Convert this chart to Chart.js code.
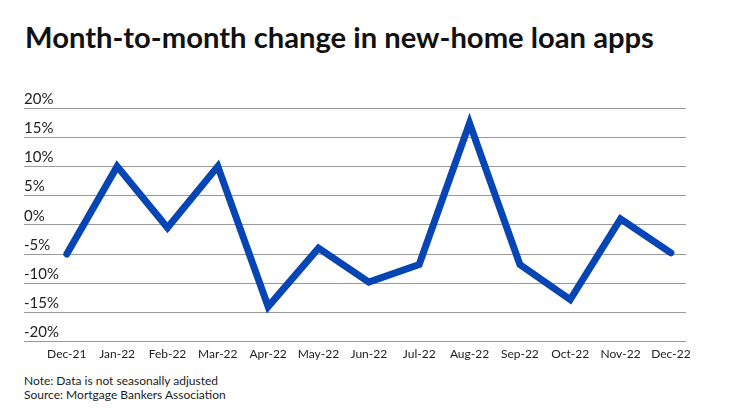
<!DOCTYPE html>
<html lang="en">
<head>
  <meta charset="UTF-8">
  <title>Month-to-month change in new-home loan apps</title>
  <script src="https://cdn.jsdelivr.net/npm/chart.js"></script>
  <style>
    body {
      margin: 0;
      width: 740px;
      height: 416px;
      background: #fff;
      font-family: Lato, "Open Sans", sans-serif;
      color: #1a1a1a;
      position: relative;
      overflow: hidden;
    }
    .title {
      position: absolute;
      left: 25px;
      top: 22px;
      font-size: 29.2px;
      line-height: 29px;
      font-weight: 700;
      color: #111;
      white-space: nowrap;
    }
    .chart-box {
      position: absolute;
      left: 0;
      top: 80px;
      width: 740px;
      height: 286px;
    }
    .notes {
      position: absolute;
      left: 24px;
      top: 374px;
      font-size: 12px;
      line-height: 14px;
      color: #222;
    }
  </style>
</head>
<body>
  <div class="title">Month-to-month change in new-home loan apps</div>
  <div class="chart-box">
    <canvas id="loanChart"></canvas>
  </div>
  <div class="notes">
    Note: Data is not seasonally adjusted<br>
    Source: Mortgage Bankers Association
  </div>

  <script>
    // chart data
    var months = ['Dec-21', 'Jan-22', 'Feb-22', 'Mar-22', 'Apr-22', 'May-22', 'Jun-22',
                  'Jul-22', 'Aug-22', 'Sep-22', 'Oct-22', 'Nov-22', 'Dec-22'];
    var changePct = [-5, 10, -0.5, 10, -14, -4, -9.8, -6.8, 17.4, -6.8, -12.8, 1, -4.8];
    var yTicks = [20, 15, 10, 5, 0, -5, -10, -15, -20];

    var points = months.map(function(m, i) { return { x: i, y: changePct[i] }; });

    var ctx = document.getElementById('loanChart').getContext('2d');
    var loanChart = new Chart(ctx, {
      type: 'line',
      data: {
        datasets: [{
          data: points,
          borderColor: '#0645b5',
          borderWidth: 7,
          borderJoinStyle: 'miter',
          borderCapStyle: 'round',
          tension: 0,
          pointRadius: 0,
          fill: false
        }]
      },
      options: {
        responsive: true,
        maintainAspectRatio: false,
        animation: false,
        layout: { padding: { left: 24, right: 54, top: 28, bottom: 0 } },
        plugins: {
          legend: { display: false },
          tooltip: { enabled: false }
        },
        scales: {
          x: {
            type: 'linear',
            min: -0.85,
            max: 12.3,
            afterBuildTicks: function(scale) {
              scale.ticks = months.map(function(m, i) { return { value: i }; });
            },
            grid: { display: false, drawTicks: false },
            border: { display: false },
            ticks: {
              padding: 5,
              maxRotation: 0,
              autoSkip: false,
              color: '#222',
              font: { family: 'Lato', size: 12 },
              callback: function(v) { return months[v]; }
            }
          },
          y: {
            min: -20,
            max: 20,
            afterBuildTicks: function(scale) {
              scale.ticks = yTicks.map(function(v) { return { value: v }; });
            },
            grid: { color: '#9a9a9a', lineWidth: 1, drawTicks: false },
            border: { display: false },
            ticks: {
              mirror: true,
              padding: 0,
              labelOffset: -9,
              color: '#222',
              font: { family: 'Lato', size: 15 },
              callback: function(v) { return v + '%'; }
            }
          }
        }
      }
    });
  </script>
</body>
</html>
